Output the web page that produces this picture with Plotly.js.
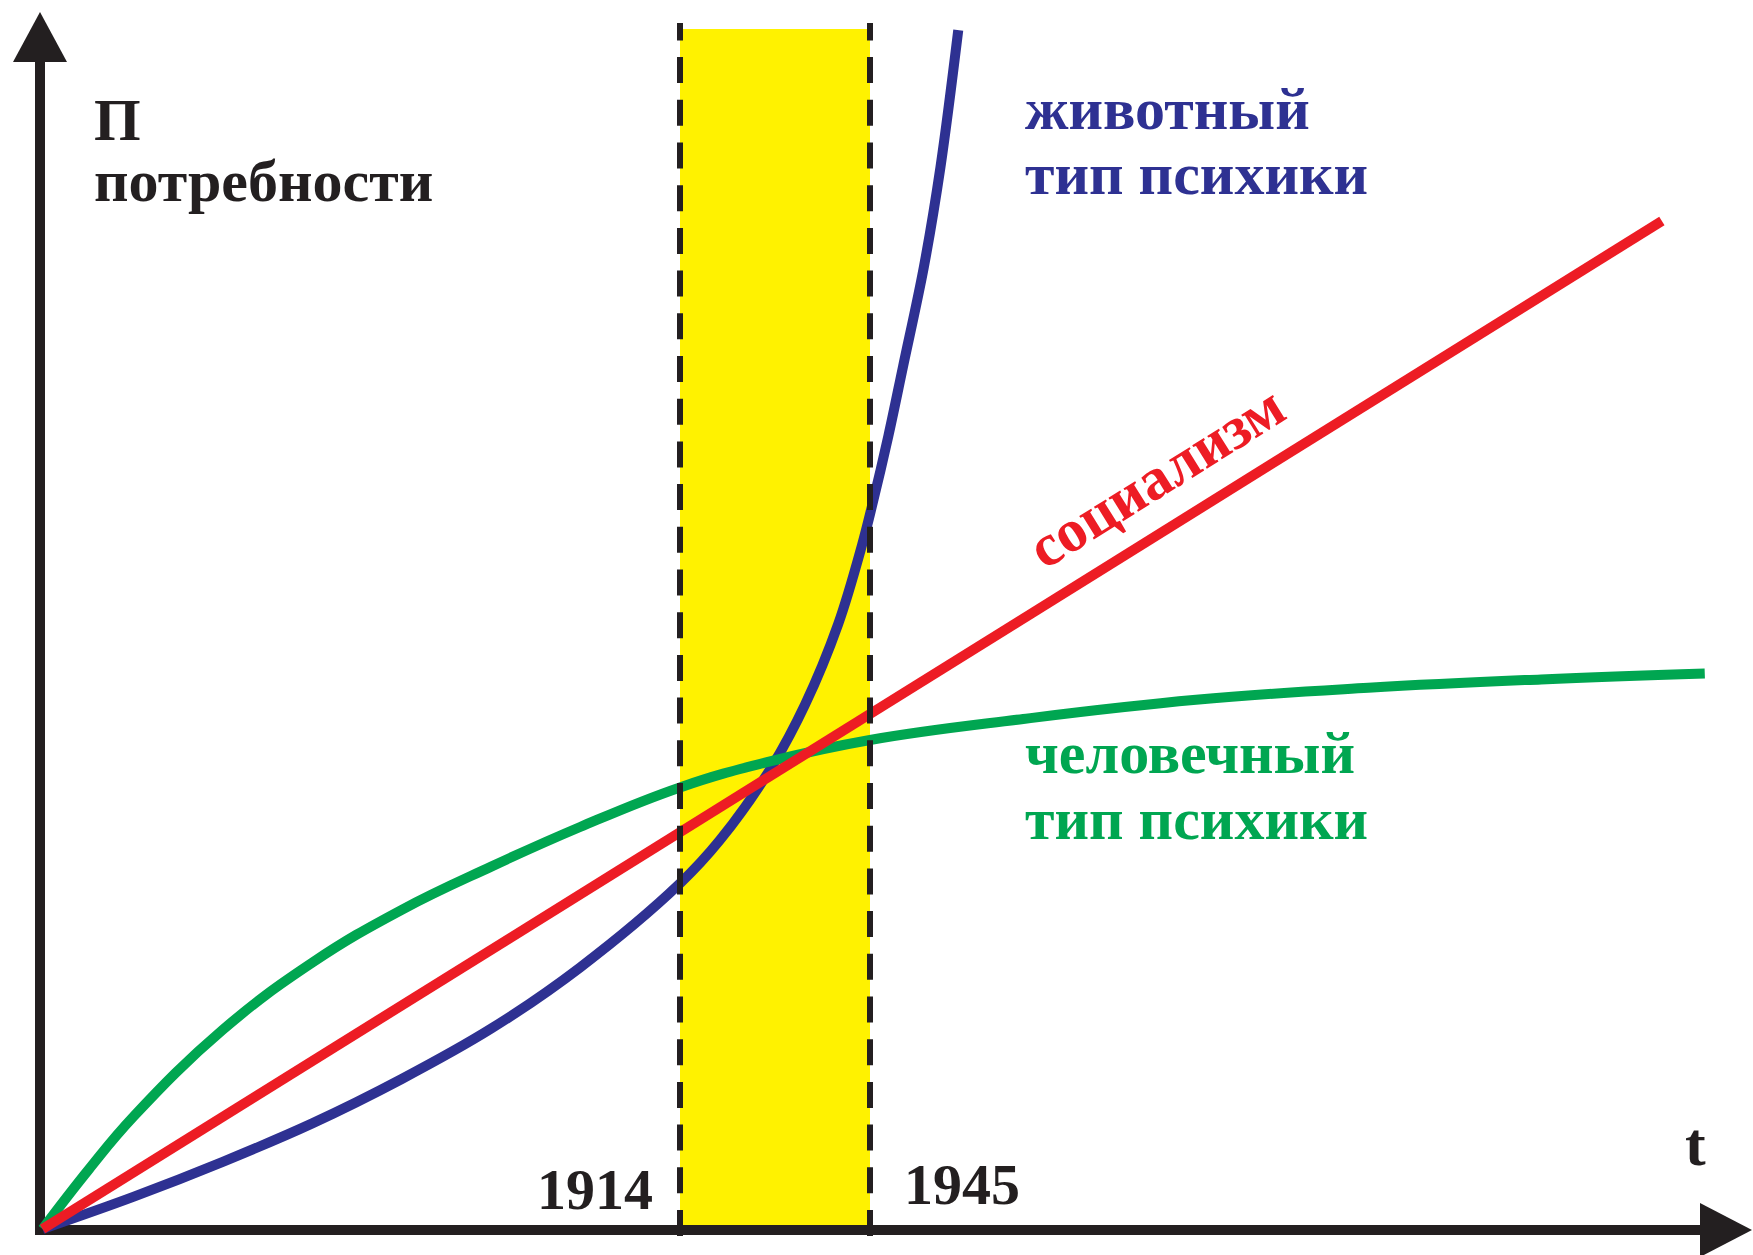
<!DOCTYPE html>
<html>
<head>
<meta charset="utf-8">
<script src="https://cdn.plot.ly/plotly-3.0.1.min.js"></script>
<style>
  html, body { margin: 0; padding: 0; background: #ffffff; }
  #chart { width: 1753px; height: 1255px; }
</style>
</head>
<body>
<div id="chart"></div>
<script>
// ---------------- data ----------------
// x: time in years, y: level of needs "П" (band top = 100)
const animalYears = [1810, 1824.9, 1839.4, 1854.0, 1868.6, 1883.2, 1897.7, 1914, 1920.5, 1928.7, 1934.4, 1939.8, 1943.7, 1945.3, 1948.0, 1950.4, 1953.8, 1956.5, 1959.4];
const animalNeeds = [0, 2.7, 5.6, 8.8, 12.5, 16.7, 21.8, 28.8, 32.4, 38.3, 43.7, 50.4, 57.0, 60.2, 66.1, 71.9, 80.2, 88.5, 99.9];

const socialismYears = [1810, 2074.2];
const socialismNeeds = [0, 84];

const humaneYears = [1810, 1817.6, 1824.9, 1839.4, 1854.0, 1868.6, 1883.2, 1897.7, 1914, 1928.2, 1945, 1970.0, 1998.2, 2026.3, 2054.5, 2081.2];
const humaneNeeds = [0, 5.0, 9.4, 16.6, 22.2, 26.6, 30.2, 33.5, 36.8, 38.9, 40.75, 42.5, 44.1, 45.1, 45.8, 46.3];

const periodYears = [1914, 1945];
const periodLabels = ['1914', '1945'];
const bandTop = 100;

const yTitleLines = ['П', 'потребности'];
const animalLabel = ['животный', 'тип психики'];
const humaneLabel = ['человечный', 'тип психики'];
const socialismLabel = 'социализм';
const timeLabel = 't';

// ---------------- styling ----------------
const BLACK = '#231F20', YELLOW = '#FFF200', BLUE = '#2E3192', RED = '#ED1C24', GREEN = '#00A651';
const FONT = 'Liberation Serif, Times New Roman, serif';
const W = 1753, H = 1255;
// pixel <-> data helpers for decorations (1914 at px 680, 1945 at px 870; P=0 at py 1229, 12 px per unit)
const K = 190 / 31;
const X = px => 1914 + (px - 680) / K;
const Y = py => (1229 - py) / 12;

const LW = 10;
const traces = [
  { x: animalYears, y: animalNeeds, mode: 'lines', line: { color: BLUE, width: LW, shape: 'spline', smoothing: 1 }, hoverinfo: 'skip' },
  { x: humaneYears, y: humaneNeeds, mode: 'lines', line: { color: GREEN, width: LW, shape: 'spline', smoothing: 1.2 }, hoverinfo: 'skip' },
  { x: socialismYears, y: socialismNeeds, mode: 'lines', line: { color: RED, width: LW }, hoverinfo: 'skip' }
];

const shapes = [
  { type: 'rect', xref: 'x', yref: 'y', x0: periodYears[0], x1: periodYears[1], y0: 0, y1: bandTop,
    fillcolor: YELLOW, line: { width: 0 }, layer: 'below' },
  { type: 'line', xref: 'x', yref: 'y', x0: X(40), x1: X(40), y0: Y(1235), y1: Y(60),
    line: { color: BLACK, width: 10 }, layer: 'below' },
  { type: 'line', xref: 'x', yref: 'y', x0: X(35), x1: X(1702), y0: Y(1230), y1: Y(1230),
    line: { color: BLACK, width: 10 }, layer: 'below' },
  { type: 'path', xref: 'x', yref: 'y',
    path: `M ${X(13)},${Y(62)} L ${X(40)},${Y(12)} L ${X(67)},${Y(62)} Z`,
    fillcolor: BLACK, line: { width: 0 }, layer: 'below' },
  { type: 'path', xref: 'x', yref: 'y',
    path: `M ${X(1700)},${Y(1203)} L ${X(1752)},${Y(1230)} L ${X(1700)},${Y(1257)} Z`,
    fillcolor: BLACK, line: { width: 0 }, layer: 'below' }
];
periodYears.forEach(yr => shapes.push({
  type: 'line', xref: 'x', yref: 'y', x0: yr, x1: yr, y0: Y(1236), y1: Y(23),
  line: { color: BLACK, width: 6, dash: '26px,16.7px' }, layer: 'above'
}));

function label(text, px, pyMid, size, color, xanchor, extra) {
  return Object.assign({
    text: text, x: X(px), y: Y(pyMid), xref: 'x', yref: 'y', showarrow: false,
    xanchor: xanchor, yanchor: 'middle', borderpad: 0,
    font: { family: FONT, size: size, color: color, weight: 700 }
  }, extra || {});
}

const S = 60;
const mid = (baseline, size) => baseline - 0.3375 * size;
const annotations = [
  label(yTitleLines[0], 93, mid(140, S), S, BLACK, 'left'),
  label(yTitleLines[1], 93, mid(201, S), S, BLACK, 'left'),
  label(animalLabel[0], 1024, mid(129, S), S, BLUE, 'left'),
  label(animalLabel[1], 1024, mid(194, S), S, BLUE, 'left'),
  label(humaneLabel[0], 1024, mid(773, S), S, GREEN, 'left'),
  label(humaneLabel[1], 1024, mid(839, S), S, GREEN, 'left'),
  label(periodLabels[0], 654, mid(1209, 58), 58, BLACK, 'right'),
  label(periodLabels[1], 903, mid(1204, 58), 58, BLACK, 'left'),
  label(timeLabel, 1695, mid(1165, 62), 62, BLACK, 'center'),
  label(socialismLabel, 1156, 477, S, RED, 'center', { textangle: -32 })
];

const layout = {
  width: W, height: H,
  margin: { l: 0, r: 0, t: 0, b: 0, pad: 0 },
  paper_bgcolor: '#ffffff', plot_bgcolor: '#ffffff',
  showlegend: false,
  xaxis: { range: [X(0), X(W)], visible: false, fixedrange: true },
  yaxis: { range: [Y(H), Y(0)], visible: false, fixedrange: true },
  shapes: shapes,
  annotations: annotations
};

Plotly.newPlot('chart', traces, layout, { staticPlot: true, displayModeBar: false });
</script>
</body>
</html>
